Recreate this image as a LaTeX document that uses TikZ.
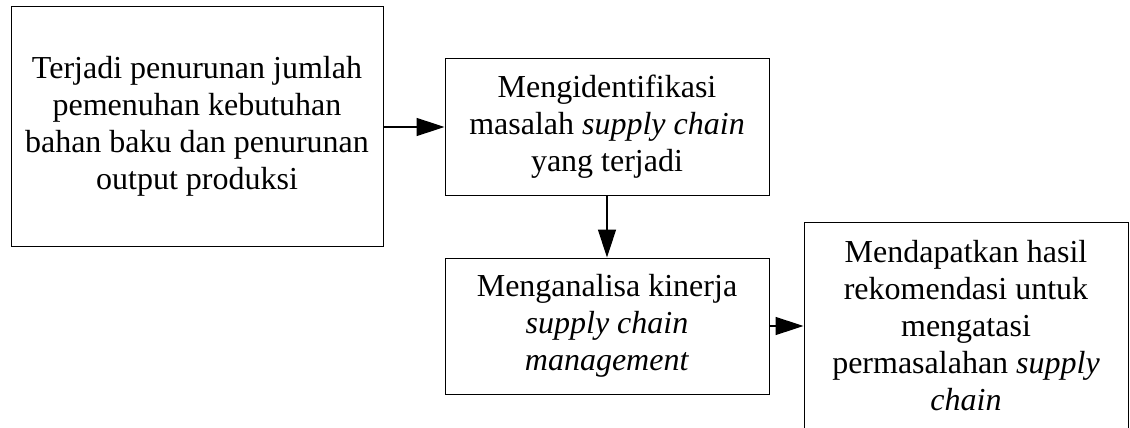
\documentclass[tikz,border=0pt]{standalone}
\usepackage{fontspec}
\setmainfont{Liberation Serif}
\usetikzlibrary{arrows.meta}
\begin{document}
\begin{tikzpicture}[x=1pt,y=-1pt,
  box/.style={draw=black, line width=1pt, align=center, inner sep=0pt,
    font=\fontsize{32}{37}\selectfont},
  conn/.style={line width=1.5pt, -{Triangle[length=28pt,width=18pt]}}]
\useasboundingbox (0,0) rectangle (1130,428);
\node[box, minimum width=372pt, minimum height=239pt] (b1) at (197,126.5)
  {Terjadi penurunan jumlah\\pemenuhan kebutuhan\\bahan baku dan penurunan\\output produksi};
\node[box, minimum width=324pt, minimum height=136pt] (b2) at (607,127)
  {Mengidentifikasi\\masalah \textit{supply chain}\\yang terjadi};
\node[box, minimum width=324pt, minimum height=136pt] (b3) at (607,326)
  {Menganalisa kinerja\\\textit{supply chain}\\\textit{management}};
\node[box, minimum width=324pt, minimum height=208pt] (b4) at (966,326)
  {Mendapatkan hasil\\rekomendasi untuk\\mengatasi\\permasalahan \textit{supply}\\\textit{chain}};
\draw[conn] (b1.east |- b2.west) -- (b2.west);
\draw[conn] (b2.south) -- (b3.north);
\draw[conn] (b3.east) -- (b4.west);
\end{tikzpicture}
\end{document}
